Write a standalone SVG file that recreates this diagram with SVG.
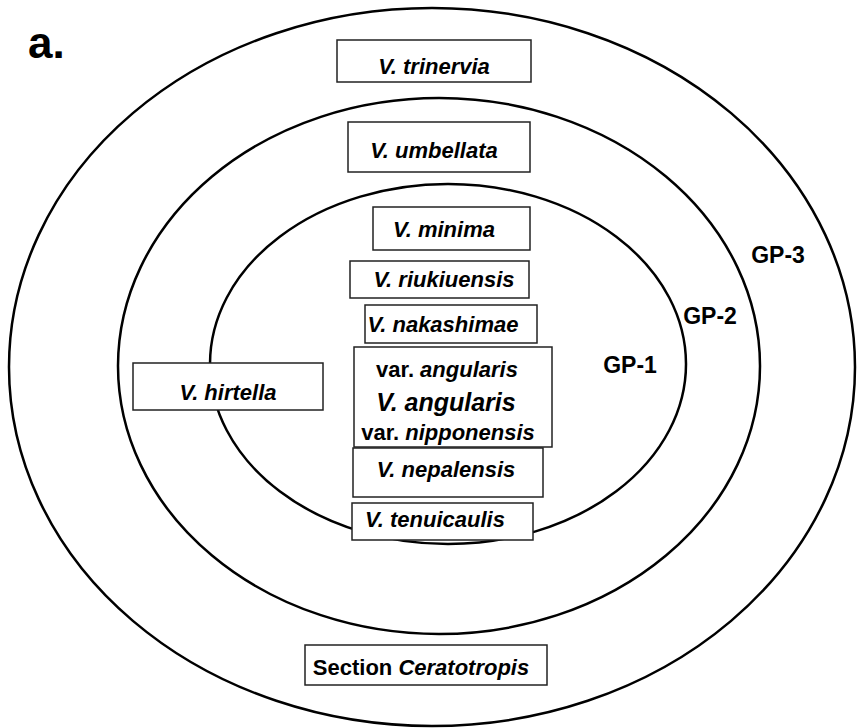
<svg xmlns="http://www.w3.org/2000/svg" width="857" height="728" viewBox="0 0 857 728">
<style>
.ring{fill:none;stroke:#000;stroke-width:2.5}
.box{fill:#fff;stroke:#222;stroke-width:1.5}
text{font-family:"Liberation Sans",Arial,sans-serif;font-weight:bold;font-size:22px;fill:#000;text-anchor:middle}
.it{font-style:italic}
.gp{font-size:23px}
</style>
<rect width="857" height="728" fill="#fff"/>
<text x="28" y="58" style="font-size:44px;text-anchor:start">a.</text>
<g id="rings">
<ellipse id="gp3" class="ring" cx="432" cy="367" rx="423" ry="359"/>
<ellipse id="gp2" class="ring" cx="439" cy="366" rx="321" ry="268"/>
<ellipse id="gp1" class="ring" cx="448" cy="364" rx="238" ry="180"/>
</g>
<g id="labels">
<text class="gp" x="630" y="373">GP-1</text>
<text class="gp" x="710" y="324">GP-2</text>
<text class="gp" x="778" y="263">GP-3</text>
</g>
<g id="trinervia"><rect class="box" x="337" y="40" width="194" height="42"/><text class="it" x="434" y="74">V. trinervia</text></g>
<g id="umbellata"><rect class="box" x="348" y="122" width="182" height="50"/><text class="it" x="434" y="158">V. umbellata</text></g>
<g id="minima"><rect class="box" x="373" y="207" width="157" height="43"/><text class="it" x="444" y="237">V. minima</text></g>
<g id="riukiuensis"><rect class="box" x="350" y="261" width="179" height="37"/><text class="it" x="444" y="287">V. riukiuensis</text></g>
<g id="nakashimae"><rect class="box" x="365" y="305" width="172" height="38"/><text class="it" x="443" y="332">V. nakashimae</text></g>
<g id="angularis"><rect class="box" x="354" y="347" width="198" height="100"/>
<text x="447" y="377">var. <tspan class="it">angularis</tspan></text>
<text class="it" x="446" y="411" style="font-size:25px">V. angularis</text>
<text x="448" y="440">var. <tspan class="it">nipponensis</tspan></text></g>
<g id="nepalensis"><rect class="box" x="353" y="448" width="190" height="49"/><text class="it" x="446" y="477">V. nepalensis</text></g>
<g id="tenuicaulis"><rect class="box" x="352" y="503" width="181" height="37"/><text class="it" x="435" y="527">V. tenuicaulis</text></g>
<g id="hirtella"><rect class="box" x="133" y="363" width="190" height="47"/><text class="it" x="228" y="400">V. hirtella</text></g>
<g id="ceratotropis"><rect class="box" x="305" y="645" width="242" height="40"/><text x="421" y="675">Section <tspan class="it">Ceratotropis</tspan></text></g>
<g id="connectors"/>
</svg>
